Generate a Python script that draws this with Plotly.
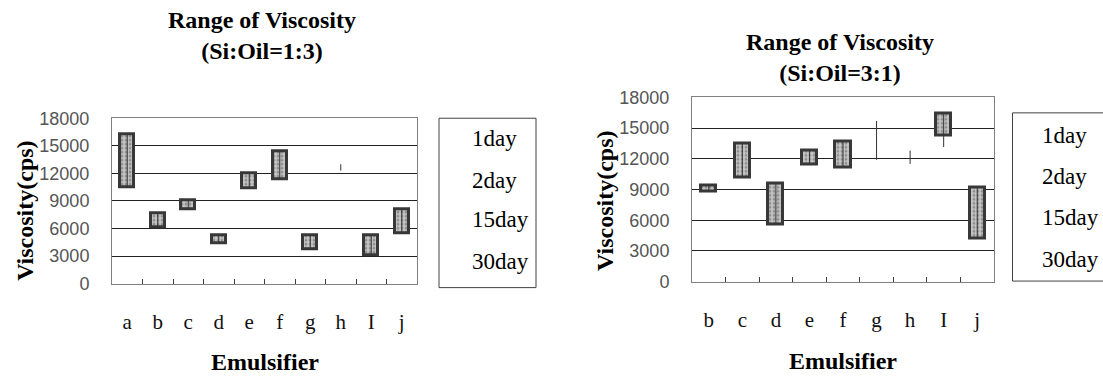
import plotly.graph_objects as go

W, H = 1103, 379

# ---------------- data ----------------
left_cats = ["a", "b", "c", "d", "e", "f", "g", "h", "I", "j"]
left_box_low = [10500, 6100, 8100, 4400, 10400, 11400, 3800, None, 3100, 5500]
left_box_high = [16300, 7700, 9100, 5300, 12000, 14400, 5250, None, 5250, 8100]
left_line_low = [10500, 6100, 8100, 4400, 10400, 11400, 3800, 12300, 3100, 5500]
left_line_high = [16300, 7700, 9100, 5300, 12000, 14400, 5250, 13000, 5250, 8100]

right_cats = ["b", "c", "d", "e", "f", "g", "h", "I", "j"]
right_box_low = [8850, 10200, 5600, 11500, 11200, None, None, 14300, 4200]
right_box_high = [9400, 13500, 9600, 12800, 13700, None, None, 16400, 9200]
right_line_low = [8850, 10200, 5600, 11500, 11200, 11900, 11500, 13150, 4200]
right_line_high = [9400, 13500, 9600, 12800, 13700, 15700, 12800, 16400, 9200]

legend_labels = ["1day", "2day", "15day", "30day"]
y_ticks = [0, 3000, 6000, 9000, 12000, 15000, 18000]
y_tick_text = ["0", "3000", "6000", "9000", "12000", "15000", "18000"]

titles = ["<b>Range of Viscosity<br>(Si:Oil=1:3)</b>", "<b>Range of Viscosity<br>(Si:Oil=3:1)</b>"]

# vertical calibration of the rendered page (measured from a test render)
V_SCALE, V_OFF = 0.954, 8.7


def px(x):
    return x / W


def py(y):
    return 1 - ((y - V_OFF) / V_SCALE) / H


fig = go.Figure()

box_marker = dict(
    color="#b0b0b0",
    line=dict(color="#383838", width=3),
    pattern=dict(shape=".", fgcolor="#555555", bgcolor="#c6c6c6", size=4, solidity=0.4),
)


def add_series(cats, blo, bhi, llo, lhi, xa, ya):
    # high-low lines
    xs, ys = [], []
    for c, lo, hi in zip(cats, llo, lhi):
        xs += [c, c, None]
        ys += [lo, hi, None]
    fig.add_trace(go.Scatter(x=xs, y=ys, mode="lines", line=dict(color="#333333", width=1),
                             xaxis=xa, yaxis=ya, showlegend=False, hoverinfo="skip"))
    # up/down boxes
    bx, base, hgt = [], [], []
    for c, lo, hi in zip(cats, blo, bhi):
        if lo is None:
            continue
        bx.append(c)
        base.append(lo)
        hgt.append(hi - lo)
    fig.add_trace(go.Bar(x=bx, y=hgt, base=base, width=0.45, marker=box_marker,
                         xaxis=xa, yaxis=ya, showlegend=False))


add_series(left_cats, left_box_low, left_box_high, left_line_low, left_line_high, "x", "y")
add_series(right_cats, right_box_low, right_box_high, right_line_low, right_line_high, "x2", "y2")

axis_common_x = dict(
    type="category", showline=True, mirror=True, linecolor="#808080", linewidth=1,
    ticks="inside", tickson="boundaries", ticklen=5, tickcolor="#404040",
    showgrid=False, tickfont=dict(family="Liberation Serif", size=21, color="#111"),
    ticklabelstandoff=19,
)
axis_common_y = dict(
    range=[0, 18000], tickvals=y_ticks, ticktext=y_tick_text, showline=True, mirror=True,
    linecolor="#808080", linewidth=1, showgrid=True, gridcolor="#222222", gridwidth=1,
    zeroline=False, ticks="", tickfont=dict(family="Liberation Sans", size=18, color="#555"),
    ticklabelstandoff=18,
)

fig.update_layout(
    width=W, height=H, margin=dict(l=0, r=0, t=0, b=0),
    paper_bgcolor="white", plot_bgcolor="white", bargap=0,
    xaxis=dict(domain=[px(112), px(417)], anchor="y", **axis_common_x),
    yaxis=dict(domain=[py(284.3), py(117.7)], anchor="x", **axis_common_y),
    xaxis2=dict(domain=[px(692), px(994)], anchor="y2", **axis_common_x),
    yaxis2=dict(domain=[py(282.3), py(96.7)], anchor="x2", **axis_common_y),
)

ann = []
# titles
ann.append(dict(text=titles[0], x=px(262), y=py(34), xref="paper", yref="paper",
                showarrow=False, font=dict(family="Liberation Serif", size=24, color="black"),
                xanchor="center", yanchor="middle"))
ann.append(dict(text=titles[1], x=px(840), y=py(57), xref="paper", yref="paper",
                showarrow=False, font=dict(family="Liberation Serif", size=24, color="black"),
                xanchor="center", yanchor="middle"))
# y axis titles
for xc, yc in [(25, 211), (605, 201)]:
    ann.append(dict(text="<b>Viscosity(cps)</b>", x=px(xc), y=py(yc), xref="paper", yref="paper",
                    showarrow=False, textangle=-90,
                    font=dict(family="Liberation Serif", size=24, color="black"),
                    xanchor="center", yanchor="middle"))
# x axis titles
for xc, yc in [(265, 363), (843, 362)]:
    ann.append(dict(text="<b>Emulsifier</b>", x=px(xc), y=py(yc), xref="paper", yref="paper",
                    showarrow=False, font=dict(family="Liberation Serif", size=24, color="black"),
                    xanchor="center", yanchor="middle"))

# legends
shapes = []
legend_specs = [
    dict(x0=439, x1=536, y0=117.7, y1=288.3, tx=470, ty=[138.3, 180, 220, 262.3]),
    dict(x0=1012.5, x1=1110, y0=112.3, y1=281.7, tx=1039.5, ty=[135, 176.7, 217.3, 260]),
]
for spec in legend_specs:
    shapes.append(dict(type="rect", xref="paper", yref="paper",
                       x0=px(spec["x0"]), x1=px(spec["x1"]),
                       y0=py(spec["y1"]), y1=py(spec["y0"]),
                       line=dict(color="#404040", width=1), fillcolor="rgba(0,0,0,0)"))
    for lab, yy in zip(legend_labels, spec["ty"]):
        ann.append(dict(text=lab, x=px(spec["tx"]), y=py(yy), xref="paper", yref="paper",
                        showarrow=False, font=dict(family="Liberation Serif", size=23, color="black"),
                        xanchor="left", yanchor="middle"))

fig.update_layout(annotations=ann, shapes=shapes)

fig.write_html(
    "out.html",
    config={"displayModeBar": False},
    post_script=(
        "document.documentElement.style.margin='0';"
        "document.body.style.margin='0';"
        "document.body.style.overflow='hidden';"
    ),
)
